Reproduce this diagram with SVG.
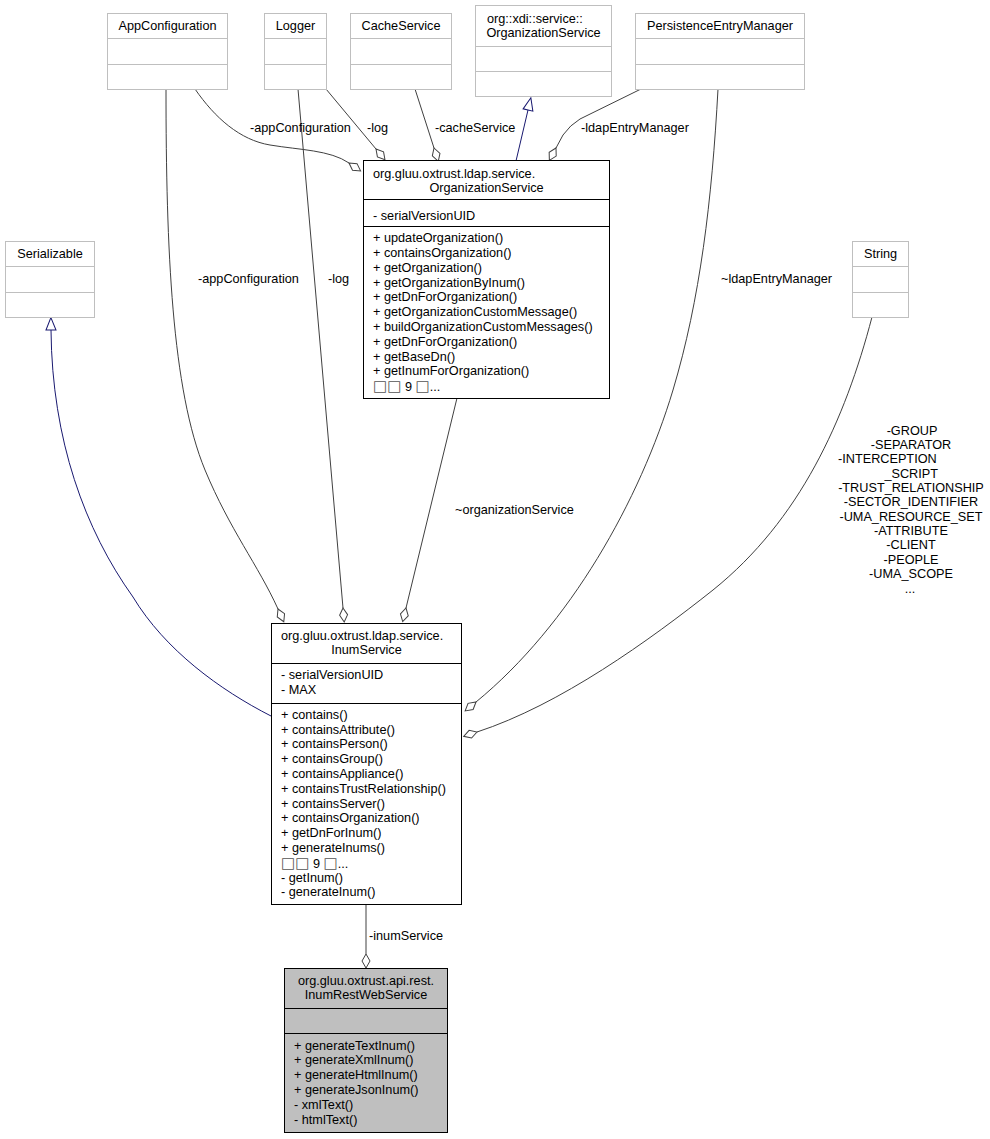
<svg xmlns="http://www.w3.org/2000/svg" width="990" height="1139" viewBox="0 0 990 1139">
<style>
text{font-family:"Liberation Sans",Arial,sans-serif;font-size:12.7px;fill:#000}
.c{text-anchor:middle}
.r{text-anchor:end}
.bx{font-family:"DejaVu Sans",sans-serif;font-size:15px;fill:#555}
.box{fill:#fff;stroke:#000;stroke-width:1}
.gbox{fill:#bfbfbf;stroke:#000;stroke-width:1}
.lbox{fill:#fff;stroke:#bfbfbf;stroke-width:1}
.sep{stroke:#000;stroke-width:1}
.lsep{stroke:#bfbfbf;stroke-width:1}
.edge{fill:none;stroke:#404040;stroke-width:1;marker-end:url(#dia)}
.inh{fill:none;stroke:#191970;stroke-width:1;marker-end:url(#tri)}
</style>
<defs>
<marker id="dia" markerUnits="userSpaceOnUse" markerWidth="16" markerHeight="10" viewBox="0 0 16 10" refX="0.5" refY="5" orient="auto" overflow="visible">
<path d="M0.5,5 L7.5,1 L14.5,5 L7.5,9 Z" fill="#fff" stroke="#404040" stroke-width="1"/>
</marker>
<marker id="tri" markerUnits="userSpaceOnUse" markerWidth="14" markerHeight="11" viewBox="0 0 14 11" refX="0.5" refY="5.5" orient="auto" overflow="visible">
<path d="M0.5,0.5 L13,5.5 L0.5,10.5 Z" fill="#fff" stroke="#191970" stroke-width="1"/>
</marker>
</defs>
<rect width="990" height="1139" fill="#fff"/>

<g id="connectors">
<path class="edge" d="M195,89 C215,118 240,140 270,145 C300,150 330,150 349,163"/>
<path class="edge" d="M326,89 L376,149"/>
<path class="edge" d="M415,89 L434,148"/>
<path class="inh" d="M516,161 L528,110"/>
<path class="edge" d="M641,89 L580,119 Q570,125 563,135 L556,148"/>
<path class="edge" d="M166,89 C166,250 172,390 205,470 C230,530 258,565 278,609"/>
<path class="edge" d="M298,89 L343,608"/>
<path class="edge" d="M457,398 L406,608"/>
<path class="edge" d="M718,89 C712,200 700,300 673,390 C640,500 570,625 476,702"/>
<path class="edge" d="M872,317 C845,420 800,520 713,590 C650,640 560,705 477,732"/>
<path class="inh" d="M271,716 C220,690 165,650 133,597 C85,530 52,440 51,330"/>
<path class="edge" d="M366,904 L366,954"/>
<text x="250" y="132">-appConfiguration</text>
<text x="367" y="132">-log</text>
<text x="435" y="132">-cacheService</text>
<text x="581" y="132">-ldapEntryManager</text>
<text x="198" y="283">-appConfiguration</text>
<text x="328" y="283">-log</text>
<text x="721" y="283">~ldapEntryManager</text>
<text x="455" y="513.5">~organizationService</text>
<text x="369" y="939.5">-inumService</text>
<text class="c" x="912" y="434.5">-GROUP</text>
<text class="c" x="911" y="448.9">-SEPARATOR</text>
<text x="838" y="463.2">-INTERCEPTION</text>
<text class="r" x="938" y="477.6">_SCRIPT</text>
<text class="c" x="911" y="491.9">-TRUST_RELATIONSHIP</text>
<text class="c" x="911" y="506.3">-SECTOR_IDENTIFIER</text>
<text class="c" x="911" y="520.7">-UMA_RESOURCE_SET</text>
<text class="c" x="911" y="535">-ATTRIBUTE</text>
<text class="c" x="911" y="549.4">-CLIENT</text>
<text class="c" x="911" y="563.7">-PEOPLE</text>
<text class="c" x="911" y="578.1">-UMA_SCOPE</text>
<text class="c" x="910" y="592.5">...</text>
</g>

<g id="AppConfiguration">
<rect class="lbox" x="107.5" y="13.5" width="120" height="76"/>
<line class="lsep" x1="107.5" y1="38.5" x2="227.5" y2="38.5"/>
<line class="lsep" x1="107.5" y1="64.5" x2="227.5" y2="64.5"/>
<text class="c" x="167.5" y="30">AppConfiguration</text>
</g>
<g id="Logger">
<rect class="lbox" x="264.5" y="13.5" width="62" height="76"/>
<line class="lsep" x1="264.5" y1="38.5" x2="326.5" y2="38.5"/>
<line class="lsep" x1="264.5" y1="64.5" x2="326.5" y2="64.5"/>
<text class="c" x="295.5" y="30">Logger</text>
</g>
<g id="CacheService">
<rect class="lbox" x="350.5" y="13.5" width="101" height="76"/>
<line class="lsep" x1="350.5" y1="38.5" x2="451.5" y2="38.5"/>
<line class="lsep" x1="350.5" y1="64.5" x2="451.5" y2="64.5"/>
<text class="c" x="401" y="30">CacheService</text>
</g>
<g id="XdiOrganizationService">
<rect class="lbox" x="475.5" y="5.5" width="136" height="91"/>
<line class="lsep" x1="475.5" y1="46.5" x2="611.5" y2="46.5"/>
<line class="lsep" x1="475.5" y1="71.5" x2="611.5" y2="71.5"/>
<text x="487" y="22.5">org::xdi::service::</text>
<text class="c" x="543.5" y="36.5">OrganizationService</text>
</g>
<g id="PersistenceEntryManager">
<rect class="lbox" x="635.5" y="13.5" width="169" height="76"/>
<line class="lsep" x1="635.5" y1="38.5" x2="804.5" y2="38.5"/>
<line class="lsep" x1="635.5" y1="64.5" x2="804.5" y2="64.5"/>
<text class="c" x="720" y="30">PersistenceEntryManager</text>
</g>
<g id="Serializable">
<rect class="lbox" x="5.5" y="241.5" width="89" height="76"/>
<line class="lsep" x1="5.5" y1="266.5" x2="94.5" y2="266.5"/>
<line class="lsep" x1="5.5" y1="292.5" x2="94.5" y2="292.5"/>
<text class="c" x="50" y="257.5">Serializable</text>
</g>
<g id="String">
<rect class="lbox" x="852.5" y="241.5" width="56" height="76"/>
<line class="lsep" x1="852.5" y1="266.5" x2="908.5" y2="266.5"/>
<line class="lsep" x1="852.5" y1="292.5" x2="908.5" y2="292.5"/>
<text class="c" x="880.5" y="257.5">String</text>
</g>

<g id="LdapOrganizationService">
<rect class="box" x="363.5" y="160.5" width="246" height="238"/>
<line class="sep" x1="363.5" y1="199.5" x2="609.5" y2="199.5"/>
<line class="sep" x1="363.5" y1="226.5" x2="609.5" y2="226.5"/>
<text x="373" y="178">org.gluu.oxtrust.ldap.service.</text>
<text class="c" x="486.5" y="192">OrganizationService</text>
<text x="373" y="219.5">- serialVersionUID</text>
<text x="373" y="242.2">+ updateOrganization()</text>
<text x="373" y="257">+ containsOrganization()</text>
<text x="373" y="271.8">+ getOrganization()</text>
<text x="373" y="286.6">+ getOrganizationByInum()</text>
<text x="373" y="301.4">+ getDnForOrganization()</text>
<text x="373" y="316.2">+ getOrganizationCustomMessage()</text>
<text x="373" y="331">+ buildOrganizationCustomMessages()</text>
<text x="373" y="345.8">+ getDnForOrganization()</text>
<text x="373" y="360.6">+ getBaseDn()</text>
<text x="373" y="375.4">+ getInumForOrganization()</text>
<text x="373" y="390.5"><tspan class="bx">□□</tspan> 9 <tspan class="bx">□</tspan>...</text>
</g>

<g id="InumService">
<rect class="box" x="271.5" y="623.5" width="190" height="281"/>
<line class="sep" x1="271.5" y1="663.5" x2="461.5" y2="663.5"/>
<line class="sep" x1="271.5" y1="703.5" x2="461.5" y2="703.5"/>
<text x="281" y="640">org.gluu.oxtrust.ldap.service.</text>
<text class="c" x="366.5" y="654">InumService</text>
<text x="281" y="678.5">- serialVersionUID</text>
<text x="281" y="693.5">- MAX</text>
<text x="281" y="718.8">+ contains()</text>
<text x="281" y="733.6">+ containsAttribute()</text>
<text x="281" y="748.4">+ containsPerson()</text>
<text x="281" y="763.2">+ containsGroup()</text>
<text x="281" y="778">+ containsAppliance()</text>
<text x="281" y="792.8">+ containsTrustRelationship()</text>
<text x="281" y="807.6">+ containsServer()</text>
<text x="281" y="822.4">+ containsOrganization()</text>
<text x="281" y="837.2">+ getDnForInum()</text>
<text x="281" y="852">+ generateInums()</text>
<text x="281" y="867.5"><tspan class="bx">□□</tspan> 9 <tspan class="bx">□</tspan>...</text>
<text x="281" y="881.6">- getInum()</text>
<text x="281" y="896.4">- generateInum()</text>
</g>

<g id="InumRestWebService">
<rect class="gbox" x="284.5" y="968.5" width="163" height="164"/>
<line class="sep" x1="284.5" y1="1008.5" x2="447.5" y2="1008.5"/>
<line class="sep" x1="284.5" y1="1033.5" x2="447.5" y2="1033.5"/>
<text class="c" x="366" y="985">org.gluu.oxtrust.api.rest.</text>
<text class="c" x="366" y="999">InumRestWebService</text>
<text x="294" y="1049.5">+ generateTextInum()</text>
<text x="294" y="1064.3">+ generateXmlInum()</text>
<text x="294" y="1079.1">+ generateHtmlInum()</text>
<text x="294" y="1093.9">+ generateJsonInum()</text>
<text x="294" y="1108.7">- xmlText()</text>
<text x="294" y="1123.5">- htmlText()</text>
</g>
</svg>
